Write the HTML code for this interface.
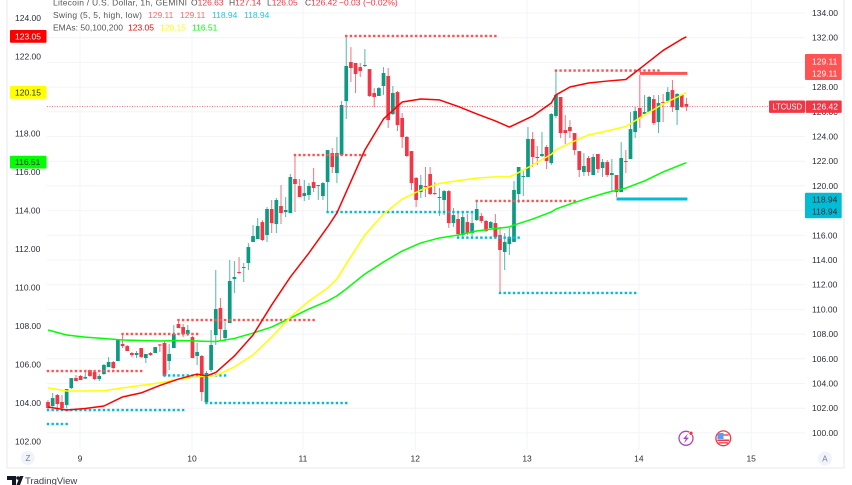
<!DOCTYPE html>
<html lang="en">
<head>
<meta charset="utf-8">
<title>LTCUSD 1h chart</title>
<style>
html,body{margin:0;padding:0;background:#fff;width:852px;height:485px;overflow:hidden}
svg{display:block;filter:blur(0.3px)}
text{font-family:"Liberation Sans",sans-serif;font-size:8.5px;fill:#2a2e39}
</style>
</head>
<body>
<svg id="chart" width="852" height="485" viewBox="0 0 852 485">
  <g id="grid"></g>
  <g id="candles"></g>
  <line x1="47" x2="805" y1="106.6" y2="106.6" stroke="#f23645" stroke-width="1" stroke-dasharray="1 1.5" opacity="0.75"/>
  <g id="swings"></g>
  <g id="emas"></g>
  <g id="leftTicks"></g>
  <g id="rightTicks"></g>
  <g id="timeTicks"></g>

  <rect x="7" y="-2" width="837" height="470" fill="none" stroke="#e8eaf0" stroke-width="1"/>

  <g>
    <text x="53" y="5.5" textLength="134" lengthAdjust="spacing" style="fill:#555">Litecoin / U.S. Dollar, 1h, GEMINI</text>
    <text y="5.5"><tspan x="191" fill="#555">O</tspan><tspan fill="#f23645">126.63</tspan><tspan x="229" fill="#555">H</tspan><tspan fill="#f23645">127.14</tspan><tspan x="267" fill="#555">L</tspan><tspan fill="#f23645">126.05</tspan><tspan x="305" fill="#555">C</tspan><tspan fill="#f23645">126.42</tspan><tspan x="339" fill="#f23645">−0.03</tspan><tspan x="363" fill="#f23645">(−0.02%)</tspan></text>
    <text x="53" y="18" textLength="89" lengthAdjust="spacing" style="fill:#555">Swing (5, 5, high, low)</text>
    <text y="18"><tspan x="148" fill="#ff6b6b">129.11</tspan><tspan x="180" fill="#ff6b6b">129.11</tspan><tspan x="212" fill="#26c6da">118.94</tspan><tspan x="244" fill="#26c6da">118.94</tspan></text>
    <text y="30.5"><tspan x="53" fill="#555">EMAs: 50,100,200</tspan><tspan x="128" fill="#ff0000">123.05</tspan><tspan x="160" fill="#ffff00">120.15</tspan><tspan x="192" fill="#00ff00">116.51</tspan></text>
  </g>

  <g>
    <rect x="10" y="30" width="36.5" height="12.8" rx="1" fill="#ff0000"/>
    <text x="15" y="39.5" style="fill:#fff">123.05</text>
    <rect x="10" y="86" width="36.5" height="12.8" rx="1" fill="#ffff00"/>
    <text x="15" y="95.5">120.15</text>
    <rect x="10" y="155.7" width="36.5" height="12.8" rx="1" fill="#00ff00"/>
    <text x="15" y="165.2">116.51</text>
  </g>

  <g>
    <rect x="805" y="54" width="36.7" height="26" rx="1" fill="#ff5252"/>
    <text x="812" y="64.5" style="fill:#fff">129.11</text>
    <text x="812" y="76.5" style="fill:#fff">129.11</text>
    <rect x="769" y="100.5" width="36" height="12.4" rx="1" fill="#f23645"/>
    <text x="772.5" y="109.7" textLength="29.5" lengthAdjust="spacingAndGlyphs" style="fill:#fff">LTCUSD</text>
    <rect x="805.7" y="100.5" width="36" height="12.4" rx="1" fill="#f23645"/>
    <text x="812" y="109.7" style="fill:#fff">126.42</text>
    <rect x="805" y="192.7" width="36.7" height="25.5" rx="1" fill="#00bcd4"/>
    <text x="812" y="202.3">118.94</text>
    <text x="812" y="214.3">118.94</text>
  </g>

  <g>
    <circle cx="27.7" cy="458" r="7" fill="#f0f3fa"/>
    <text x="25.5" y="461" style="fill:#787b86;font-size:8px">Z</text>
  </g>
  <g>
    <circle cx="825" cy="458.5" r="7" fill="#f0f3fa"/>
    <text x="822.3" y="461.5" style="fill:#787b86;font-size:8px">A</text>
  </g>

  <g>
    <circle cx="686" cy="438.3" r="7" fill="#fff" stroke="#ab47bc" stroke-width="1.3"/>
    <polygon points="688,433.5 683,439 685.8,439 684,443.2 689,437.6 686.2,437.6" fill="#ab47bc"/>
    <circle cx="691" cy="433.3" r="2" fill="#f23645" stroke="#fff" stroke-width="0.5"/>
  </g>
  <g>
    <circle cx="723.3" cy="438.3" r="7.4" fill="#fff" stroke="#f23645" stroke-width="1.3"/>
    <rect x="718" y="434" width="10.6" height="2" fill="#f77c80"/>
    <rect x="717.5" y="433" width="6" height="6" fill="#5b9cf6"/>
    <rect x="717.4" y="439.5" width="11.8" height="1.6" fill="#f23645"/>
    <rect x="718.6" y="442.2" width="9.4" height="1.3" fill="#f23645"/>
  </g>

  <g>
    <polygon points="7,476 16,476 16,485 12,485 12,480 7,480" fill="#131722"/>
    <circle cx="18" cy="478" r="1.8" fill="#131722"/>
    <polygon points="20,476 23.5,476 20,485 16.5,485" fill="#131722"/>
    <text x="25" y="484" style="font-size:9.5px;fill:#3a3e4a">TradingView</text>
  </g>
</svg>

<script>
const opens = [102.50,102.18,103.07,102.50,102.26,103.63,104.44,104.61,104.40,105.09,104.93,104.36,104.77,105.33,105.74,105.82,107.20,107.03,106.47,106.31,106.87,106.06,106.47,106.47,107.16,107.28,105.82,106.87,108.82,108.57,108.01,107.76,106.23,106.23,102.50,105.09,107.92,110.11,107.68,108.90,112.46,113.03,113.35,113.76,115.46,115.70,117.07,116.02,118.13,116.91,118.37,117.88,117.80,120.56,119.99,119.18,119.26,120.31,119.99,119.18,120.31,122.66,121.04,122.50,126.87,130.03,129.95,129.62,129.75,129.46,127.52,127.28,128.09,128.90,125.82,127.60,125.50,123.96,122.82,120.64,119.50,119.99,120.96,119.42,119.06,118.86,119.58,116.99,117.32,116.02,117.07,116.18,117.24,117.56,117.16,116.59,116.99,116.02,114.65,115.29,115.46,119.34,120.72,120.72,123.80,122.34,122.42,123.15,121.85,125.66,127.20,124.52,124.77,124.28,122.82,121.12,122.26,120.88,122.58,121.45,121.93,120.88,120.88,119.50,122.01,122.18,124.36,126.31,125.82,125.98,127.03,125.17,126.79,126.87,127.76,126.14,127.36,126.63];
const highs = [102.66,103.23,103.15,103.07,103.55,104.44,104.69,104.69,104.93,105.09,105.01,104.77,105.58,106.14,105.82,107.60,108.09,107.12,106.55,106.63,106.87,106.39,106.55,106.95,107.20,107.44,107.20,108.73,109.22,108.82,108.73,107.84,107.28,106.31,105.01,108.33,113.19,110.92,108.98,114.00,113.92,114.24,113.76,115.37,116.83,117.40,117.24,118.29,118.86,119.02,120.07,119.10,120.96,122.50,120.56,120.48,120.23,121.45,120.07,120.31,122.90,123.07,123.96,126.87,132.14,131.24,129.95,129.95,131.08,129.46,127.92,128.00,129.62,129.54,128.09,127.68,125.90,124.04,122.82,120.72,120.88,121.53,121.53,120.31,119.83,119.67,119.67,118.21,117.80,117.88,117.72,117.88,118.86,117.80,117.24,117.16,117.72,116.67,116.18,116.59,120.39,121.53,121.20,124.77,124.36,123.23,124.36,123.31,125.90,129.38,127.20,125.74,125.33,124.28,122.82,122.66,122.42,122.58,122.58,122.18,122.09,122.18,120.88,123.55,122.90,125.98,126.39,128.98,127.36,127.28,127.36,127.36,127.44,128.00,128.57,127.52,127.44,127.14];
const lows = [101.85,102.10,102.01,101.93,102.01,103.55,104.20,104.28,104.36,104.53,104.28,104.20,104.69,105.33,105.17,105.82,106.87,106.63,106.14,106.06,106.06,105.66,106.23,106.47,106.55,104.53,105.09,106.87,108.49,107.76,107.84,106.06,105.50,102.58,102.50,104.93,107.12,107.52,107.36,108.90,111.33,112.86,112.22,113.19,115.46,115.70,115.54,115.46,116.18,116.18,116.91,117.48,117.80,117.88,119.10,118.78,118.86,119.50,118.86,118.86,117.88,121.04,120.23,122.50,125.41,128.41,127.52,128.81,129.62,127.20,126.39,127.28,127.36,124.69,125.74,124.44,123.07,122.34,119.67,118.29,119.02,119.10,119.26,119.26,117.56,117.64,116.59,116.67,115.78,115.78,116.02,115.86,117.16,116.99,116.26,116.59,115.86,111.33,113.19,114.40,115.46,118.61,119.18,120.72,121.53,121.69,122.34,121.37,121.69,125.50,123.88,123.39,123.88,122.50,120.72,120.80,120.80,120.88,121.04,120.72,120.72,119.58,119.10,119.50,121.04,122.18,123.88,124.69,125.74,125.90,124.93,124.28,125.17,126.71,125.98,124.93,126.31,126.05];
const closes = [102.01,102.82,102.34,102.01,103.55,104.44,104.20,104.28,104.53,104.61,104.36,104.61,105.50,105.74,105.25,107.52,107.03,106.63,106.31,106.47,106.14,106.39,106.31,106.95,107.09,104.61,106.39,108.01,108.49,108.01,108.33,106.06,106.55,103.31,104.85,107.12,110.03,108.41,108.33,112.30,112.62,112.95,113.43,115.05,115.94,116.75,115.62,118.13,116.99,118.86,117.80,118.05,120.72,120.15,119.10,119.42,119.99,119.83,120.07,120.23,122.90,121.53,122.66,126.55,129.71,129.54,129.06,129.30,129.79,127.28,127.20,127.92,129.14,125.33,127.52,124.93,123.96,122.42,120.23,118.86,120.07,119.91,119.34,119.34,119.10,119.58,116.99,117.64,116.10,117.48,116.18,116.99,118.13,117.16,116.34,117.07,115.86,114.81,115.46,115.86,119.67,121.53,120.80,123.80,122.34,122.30,122.58,122.01,125.82,127.36,124.28,124.28,124.44,122.90,121.29,121.61,121.12,122.34,121.37,121.93,120.88,121.04,119.50,122.26,121.97,124.60,126.06,125.50,125.98,127.20,125.09,126.71,126.75,127.60,126.39,127.44,126.39,126.42];

const emaBars = [0,4,8,12,16,20,24,28,32,34,36,40,44,48,52,56,60,62,64,68,72,76,80,84,88,92,96,99,100,104,108,109,112,116,120,124,128,132,136,137];
const ema50 = [103.82,103.66,103.74,103.87,104.34,104.55,104.94,105.27,105.53,105.43,105.61,106.47,107.56,109.12,110.57,111.82,113.17,113.90,114.99,117.17,118.78,119.66,119.82,119.77,119.43,119.04,118.68,118.36,118.47,118.93,119.61,120.03,120.44,120.65,120.75,120.83,121.58,122.34,122.93,123.05];
const ema100 = [104.81,104.65,104.65,104.66,104.81,104.94,105.07,105.27,105.38,105.43,105.45,105.90,106.52,107.45,108.49,109.32,110.00,110.47,111.25,112.75,113.84,114.62,115.09,115.43,115.58,115.71,115.77,115.77,115.87,116.39,116.94,117.17,117.53,117.95,118.16,118.39,118.99,119.56,120.03,120.15];
const ema200 = [107.82,107.56,107.45,107.38,107.30,107.27,107.25,107.27,107.25,107.23,107.22,107.38,107.66,107.97,108.44,108.91,109.32,109.59,109.95,110.73,111.35,111.92,112.34,112.60,112.75,112.96,113.09,113.17,113.27,113.58,113.95,114.10,114.36,114.68,114.96,115.19,115.56,116.03,116.42,116.51];

const swingHighStart = [0,16,28,53,64,92,109];
const swingHighEnd = [20,32,57,68,96,113,131];
const swingHighPrice = [105.01,108.01,109.14,122.50,132.14,118.78,129.34];
const swingLowStart = [0,0,25,34,60,88,97];
const swingLowEnd = [4,29,38,64,91,101,126];
const swingLowPrice = [100.72,101.85,104.65,102.42,117.88,115.81,111.33];
const currentHigh = [127,137,129.11];
const currentLow = [122,137,118.94];

const leftTickValues = [124,122,120,118,116,114,112,110,108,106,104,102];
const rightTickValues = [134,132,130,128,126,124,122,120,118,116,114,112,110,108,106,104,102,100];
const dayLabels = ["9","10","11","12","13","14","15"];
const dayBars = [6.87,30.9,54.7,78.8,102.8,126.8,150.9];

const SVGNS = "http://www.w3.org/2000/svg";
function xOf(bar){ return 48 + 4.66 * bar; }
function yRight(v){ return 13 + (134 - v) * 12.35; }
function yLeft(v){ return 18.5 + (124 - v) * 19.25; }
function mk(tag, parent, attrs){
  const el = document.createElementNS(SVGNS, tag);
  for (const k in attrs) el.setAttribute(k, attrs[k]);
  parent.appendChild(el);
  return el;
}

const grid = document.getElementById("grid");
rightTickValues.forEach(function(v){
  const el = mk("line", grid, {x1:47, x2:805, y1:yRight(v), y2:yRight(v), stroke:"#f2f4f8", "stroke-width":1});
  
  
});
dayBars.forEach(function(b){
  const el = mk("line", grid, {x1:xOf(b), x2:xOf(b), y1:0, y2:450, stroke:"#f2f4f8", "stroke-width":1});
  
  
});

const candleGroup = document.getElementById("candles");
opens.forEach(function(o, i){
  const c = closes[i];
  const col = c >= o ? "#0d9a82" : "#f23645";
  const x = xOf(i);
  const wick = mk("rect", candleGroup, {x:x-0.5, width:1, y:yRight(highs[i]), height:Math.max(0.5, yRight(lows[i])-yRight(highs[i])), fill:col, opacity:0.7});
  
  
  const top = yRight(Math.max(o, c));
  const bot = yRight(Math.min(o, c));
  const body = mk("rect", candleGroup, {x:x-1.85, width:3.7, y:top, height:Math.max(1, bot-top), fill:col});
  
  
});

const swingGroup = document.getElementById("swings");
function drawDots(starts, ends, prices, color, name){
  starts.forEach(function(s, k){
    for (let b = s; b <= ends[k]; b++){
      const d = mk("rect", swingGroup, {x:xOf(b)-1.2, y:yRight(prices[k])-1.2, width:2.4, height:2.4, fill:color});
      
      
    }
  });
}
drawDots(swingHighStart, swingHighEnd, swingHighPrice, "#ff5252", "swing-high-dot");
drawDots(swingLowStart, swingLowEnd, swingLowPrice, "#00bcd4", "swing-low-dot");
const curHigh = mk("rect", swingGroup, {x:xOf(currentHigh[0]), y:yRight(currentHigh[2])-1.5, width:xOf(currentHigh[1])-xOf(currentHigh[0])+1, height:3, fill:"#ff5252"});


const curLow = mk("rect", swingGroup, {x:xOf(currentLow[0]), y:yRight(currentLow[2])-1.5, width:xOf(currentLow[1])-xOf(currentLow[0])+1, height:3, fill:"#00bcd4"});



const emaGroup = document.getElementById("emas");
function emaPath(values){
  return values.map(function(v, i){ return (i ? "L" : "M") + xOf(emaBars[i]).toFixed(2) + " " + yLeft(v).toFixed(2); }).join(" ");
}
const line200 = mk("path", emaGroup, {d:emaPath(ema200), fill:"none", stroke:"#00ff00", "stroke-width":1.5, "stroke-linejoin":"round"});


const line100 = mk("path", emaGroup, {d:emaPath(ema100), fill:"none", stroke:"#ffff00", "stroke-width":1.5, "stroke-linejoin":"round"});


const line50 = mk("path", emaGroup, {d:emaPath(ema50), fill:"none", stroke:"#ff0000", "stroke-width":1.5, "stroke-linejoin":"round"});



const leftTicks = document.getElementById("leftTicks");
leftTickValues.forEach(function(v){
  const t = mk("text", leftTicks, {x:15, y:yLeft(v)+2.6});
  t.textContent = v.toFixed(2);
  
  
});
const rightTicks = document.getElementById("rightTicks");
rightTickValues.forEach(function(v){
  const t = mk("text", rightTicks, {x:812, y:yRight(v)+3});
  t.textContent = v.toFixed(2);
  
  
});
const timeTicks = document.getElementById("timeTicks");
dayLabels.forEach(function(lbl, i){
  const t = mk("text", timeTicks, {x:xOf(dayBars[i]), y:461.5, "text-anchor":"middle"});
  t.textContent = lbl;
  
  
});
</script>
</body>
</html>
